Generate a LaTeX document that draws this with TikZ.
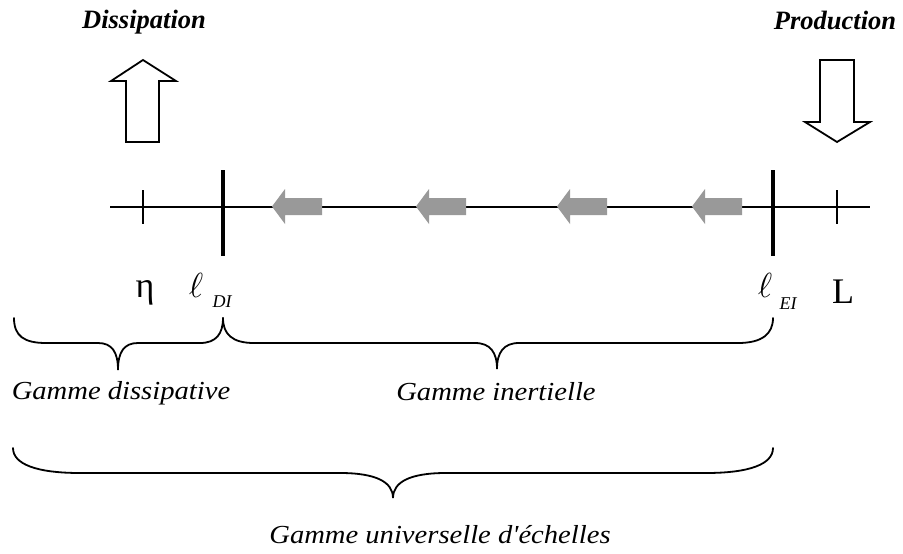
\documentclass[tikz,border=0pt]{standalone}
\usepackage{fontspec}
\setmainfont{Liberation Serif}
\newfontfamily\gammefont[FakeStretch=1.1]{Liberation Serif}
\usetikzlibrary{positioning}
\definecolor{flowgray}{RGB}{153,153,153}
\tikzset{
  bigarrow/.style={draw=black,line width=1.8pt,fill=white,line join=miter},
  flowarrow/.style={fill=flowgray,draw=none},
  gbrace/.style={line width=1.8pt,line cap=round},
  gamme/.style={inner sep=0pt,anchor=base,font=\fontsize{26}{30}\gammefont\itshape},
  title/.style={inner sep=0pt,anchor=base,font=\fontsize{26.5}{30}\selectfont\bfseries\itshape},
  scalelbl/.style={inner sep=0pt,anchor=base},
}
\begin{document}
\begin{tikzpicture}[x=1pt,y=1pt,yscale=-1]
	\useasboundingbox (0,0) rectangle (903,554);

	% Titles
	\node[title] (diss) at (144,28) {Dissipation};
	\node[title] (prod) at (835,29) {Production};

	%Shape: up arrow (dissipation)
	\draw[bigarrow] (143,60) -- (176,81) -- (159,81) -- (159,142) -- (126,142) -- (126,81) -- (111,81) -- cycle;
	%Shape: down arrow (production)
	\draw[bigarrow] (837,142) -- (870,122) -- (854,122) -- (854,60) -- (820,60) -- (820,122) -- (805,122) -- cycle;

	%Straight Lines: axis and ticks
	\coordinate (axl) at (110,207);
	\coordinate (axr) at (870,207);
	\draw[line width=2pt] (axl) -- (axr);
	\draw[line width=1.4pt] (143,190) -- (143,224);
	\draw[line width=1.4pt] (837,190) -- (837,224);
	\draw[line width=3.5pt] (223,170) -- (223,256);
	\draw[line width=3.5pt] (773,170) -- (773,256);

	%Shape: cascade arrows
	\foreach \t in {272,416,557,692}
		\fill[flowarrow] (\t,206.5) -- (\t+13,189) -- (\t+13,198) -- (\t+50,198) -- (\t+50,215) -- (\t+13,215) -- (\t+13,224) -- cycle;

	% Text Node: scales
	\node[scalelbl,font=\fontsize{36}{36}\selectfont] (eta) at (145,297) {η};
	\node[scalelbl,font=\fontsize{30}{30}\selectfont] (elldi) at (196,297) {\scalebox{1.4}{$\ell$}};
	\node[scalelbl,font=\fontsize{18}{18}\selectfont\itshape] (di) at (222,307) {DI};
	\node[scalelbl,font=\fontsize{30}{30}\selectfont] (ellei) at (765,297) {\scalebox{1.4}{$\ell$}};
	\node[scalelbl,font=\fontsize{18}{18}\selectfont\itshape] (ei) at (788,309) {EI};
	\node[scalelbl,font=\fontsize{36}{36}\selectfont] (bigl) at (843,303) {L};

	%Brace: dissipative range
	\draw[gbrace] (14,318) .. controls (14,336) and (24,343) .. (46,343) -- (98,343)
		.. controls (112,343) and (118,352) .. (118,370)
		.. controls (118,352) and (124,343) .. (138,343) -- (200,343)
		.. controls (216,343) and (223,334) .. (223,318);
	%Brace: inertial range
	\draw[gbrace] (223,318) .. controls (223,334) and (232,343) .. (254,343) -- (475,343)
		.. controls (490,343) and (497,352) .. (497,369)
		.. controls (497,352) and (504,343) .. (519,343) -- (738,343)
		.. controls (762,343) and (773,334) .. (773,318);
	%Brace: universal range
	\draw[gbrace] (13,448) .. controls (13,464) and (36,473) .. (80,473) -- (340,473)
		.. controls (376,473) and (393,482) .. (393,498)
		.. controls (393,482) and (410,473) .. (446,473) -- (706,473)
		.. controls (750,473) and (773,464) .. (773,448);

	% Text Node: ranges
	\node[gamme] (gdiss) at (121,399) {Gamme dissipative};
	\node[gamme] (giner) at (496,400) {Gamme inertielle};
	\node[gamme] (guniv) at (440,543) {Gamme universelle d'échelles};
\end{tikzpicture}
\end{document}
